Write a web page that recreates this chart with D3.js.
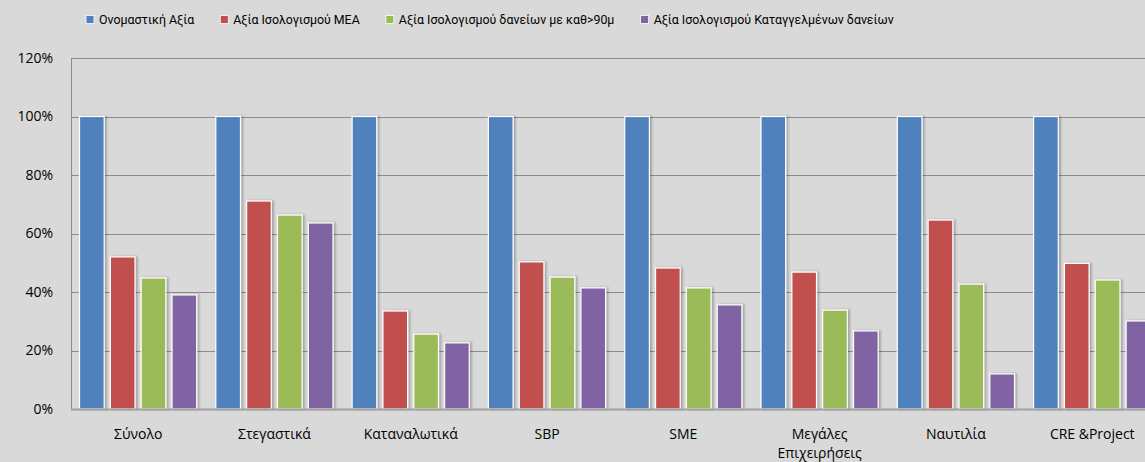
<!DOCTYPE html>
<html>
<head>
<meta charset="utf-8">
<script src="https://cdn.jsdelivr.net/npm/d3@7"></script>
<style>
  html, body { margin: 0; padding: 0; background: #d9d9d9; }
  svg { display: block; }
  text { font-family: "Open Sans", "Noto Sans", sans-serif; fill: #000; }
  .legend text { font-family: Roboto, "Open Sans", sans-serif; }
</style>
</head>
<body>
<svg id="chart" width="1145" height="462"></svg>
<script>
// Loan portfolio categories
const categories = ["Σύνολο", "Στεγαστικά", "Καταναλωτικά", "SBP", "SME", "Μεγάλες Επιχειρήσεις", "Ναυτιλία", "CRE &Project"];

// Series names (legend order)
const seriesNames = [
  "Ονομαστική Αξία",
  "Αξία Ισολογισμού ΜΕΑ",
  "Αξία Ισολογισμού δανείων με καθ>90μ",
  "Αξία Ισολογισμού Καταγγελμένων δανείων"
];

// Values in percent of nominal value
const nominal   = [100, 100, 100, 100, 100, 100, 100, 100];
const bookMEA   = [52.0, 71.1, 33.5, 50.3, 48.2, 46.8, 64.6, 49.8];
const book90    = [44.8, 66.3, 25.6, 45.1, 41.4, 33.8, 42.7, 44.1];
const bookTerm  = [39.0, 63.6, 22.6, 41.4, 35.6, 26.7, 12.0, 30.1];

const yTicks = [0, 20, 40, 60, 80, 100, 120];

const colors = ["#4f81bd", "#c0504d", "#9bbb59", "#8064a2"];
const seriesValues = [nominal, bookMEA, book90, bookTerm];

const svg = d3.select("#chart");
const W = 1145, H = 462;

const plotLeft = 71, plotTop = 58, plotBottom = 409;
const step = 136.3;

const x = d3.scaleBand()
  .domain(categories)
  .range([plotLeft, plotLeft + step * categories.length])
  .padding(0);

const xInner = d3.scaleBand()
  .domain(d3.range(seriesNames.length))
  .range([8.5, 125.7])
  .paddingInner(0.2)
  .paddingOuter(0);

const y = d3.scaleLinear().domain([0, 120]).range([plotBottom, plotTop]);

// drop shadow for bars
const defs = svg.append("defs");
const f = defs.append("filter").attr("id", "shadow")
  .attr("x", "-20%").attr("y", "-5%").attr("width", "150%").attr("height", "110%");
f.append("feDropShadow").attr("dx", 2).attr("dy", 0).attr("stdDeviation", 1)
  .attr("flood-color", "#000").attr("flood-opacity", 0.25);

// gridlines
svg.append("g")
  .selectAll("line")
  .data(yTicks.filter(d => d > 0))
  .join("line")
  .attr("x1", plotLeft).attr("x2", W)
  .attr("y1", d => Math.round(y(d)) + 0.5).attr("y2", d => Math.round(y(d)) + 0.5)
  .attr("stroke", "#8c8c8c").attr("stroke-width", 1);

// left axis line
svg.append("line")
  .attr("x1", plotLeft + 0.5).attr("x2", plotLeft + 0.5)
  .attr("y1", plotTop).attr("y2", plotBottom)
  .attr("stroke", "#8c8c8c");

// y tick labels
svg.append("g")
  .selectAll("text")
  .data(yTicks)
  .join("text")
  .attr("x", 53)
  .attr("y", d => y(d))
  .attr("dy", "0.35em")
  .attr("text-anchor", "end")
  .attr("font-size", 14)
  .text(d => d + "%");

// bars
const groups = svg.append("g")
  .selectAll("g")
  .data(categories)
  .join("g")
  .attr("transform", d => `translate(${x(d)},0)`);

groups.selectAll("rect")
  .data((d, i) => seriesValues.map((s, k) => ({ k, v: s[i] })))
  .join("rect")
  .attr("x", d => xInner(d.k))
  .attr("width", xInner.bandwidth())
  .attr("y", d => y(d.v))
  .attr("height", d => plotBottom - y(d.v))
  .attr("fill", d => colors[d.k])
  .attr("stroke", "#ffffff")
  .attr("stroke-width", 1.2)
  .attr("filter", "url(#shadow)");

// bottom axis line
svg.append("line")
  .attr("x1", plotLeft).attr("x2", W)
  .attr("y1", plotBottom + 0.5).attr("y2", plotBottom + 0.5)
  .attr("stroke", "#a0a0a0").attr("stroke-width", 2);

// category labels (long label wraps onto two lines)
const xl = svg.append("g")
  .selectAll("text")
  .data(categories)
  .join("text")
  .attr("x", d => x(d) + x.bandwidth() / 2 - 1)
  .attr("y", 439)
  .attr("text-anchor", "middle")
  .attr("font-size", 14);
xl.each(function (d) {
  const t = d3.select(this);
  const lines = d === "Μεγάλες Επιχειρήσεις" ? d.split(" ") : [d];
  lines.forEach((ln, i) => {
    t.append("tspan").attr("x", x(d) + x.bandwidth() / 2 - 1).attr("dy", i === 0 ? 0 : 19).text(ln);
  });
});

// legend: items laid out in a row, shrunk to fit the available span if needed
const legendLeft = 86, legendRight = 894, legendY = 20;
const box = 8, boxGap = 5, itemGap = 26;
const lg = svg.append("g").attr("class", "legend");
const items = lg.selectAll("g")
  .data(seriesNames)
  .join("g");
items.append("rect")
  .attr("x", 0).attr("y", -box / 2 - 0.5).attr("width", box).attr("height", box)
  .attr("fill", (d, i) => colors[i])
  .attr("stroke", "#fff").attr("stroke-width", 0.8);
const labels = items.append("text")
  .attr("x", box + boxGap)
  .attr("y", 0).attr("dy", "0.35em")
  .attr("font-size", 14)
  .text(d => d);

let widths = labels.nodes().map(n => n.getComputedTextLength());
const avail = (legendRight - legendLeft) - seriesNames.length * (box + boxGap) - (seriesNames.length - 1) * itemGap;
const k = Math.min(1, avail / d3.sum(widths));
labels.attr("font-size", 14 * k);
widths = widths.map(w => w * k);
const total = d3.sum(widths) + seriesNames.length * (box + boxGap) + (seriesNames.length - 1) * itemGap;
let cx = (legendLeft + legendRight) / 2 - total / 2;
items.each(function (d, i) {
  d3.select(this).attr("transform", `translate(${cx},${legendY})`);
  cx += box + boxGap + widths[i] + itemGap;
});
</script>
</body>
</html>
